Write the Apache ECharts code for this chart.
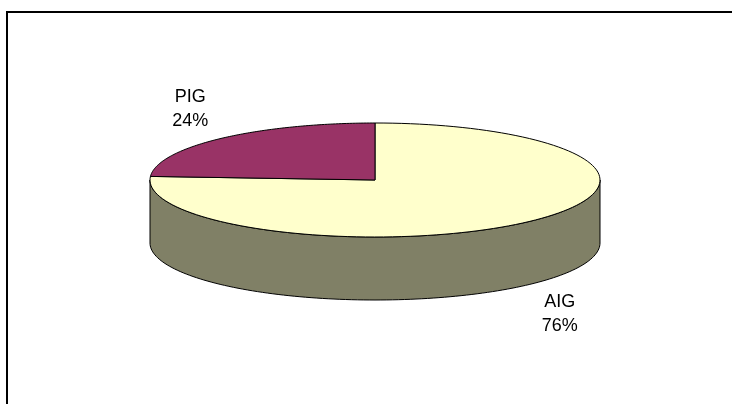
<!DOCTYPE html>
<html>
<head>
<meta charset="utf-8">
<script src="https://cdn.jsdelivr.net/npm/echarts@6/dist/echarts.min.js"></script>
<style>
html,body{margin:0;padding:0;background:#fff;}
#chart{width:732px;height:404px;}
</style>
</head>
<body>
<div id="chart"></div>
<script>
const categories = ['AIG', 'PIG'];
const values = [76, 24];
const topColors = ['#FFFFCC', '#993366'];
const sideColors = ['#808066', '#5c1f3d'];

const total = values.reduce((s, v) => s + v, 0);
const geo = { cx: 375, cy: 180, rx: 225, ry: 57, depth: 63, labelFx: 1.2, labelFy: 1.72 };
const N = 120;
const rad = d => d * Math.PI / 180;

function pt(t, dy) {
  return [geo.cx + geo.rx * Math.cos(rad(t)), geo.cy - geo.ry * Math.sin(rad(t)) + (dy || 0)];
}

function renderItem(params, api) {
  const idx = params.dataIndex;
  let before = 0;
  for (let i = 0; i < idx; i++) before += values[i];
  const v = api.value(0);
  const a = 90 - before / total * 360;
  const b = a - v / total * 360;
  const children = [];

  // side face (front, lower half only)
  const lo = Math.max(b, -180), hi = Math.min(a, 0);
  if (hi > lo) {
    const sp = [];
    for (let i = 0; i <= N; i++) sp.push(pt(lo + (hi - lo) * i / N));
    for (let i = N; i >= 0; i--) sp.push(pt(lo + (hi - lo) * i / N, geo.depth));
    children.push({
      type: 'polygon', z2: 1,
      shape: { points: sp },
      style: { fill: sideColors[idx], stroke: '#000', lineWidth: 1 }
    });
  }

  // top face
  const tp = [[geo.cx, geo.cy]];
  for (let i = 0; i <= N; i++) tp.push(pt(a + (b - a) * i / N));
  children.push({
    type: 'polygon', z2: 10,
    shape: { points: tp },
    style: { fill: topColors[idx], stroke: '#000', lineWidth: 1 }
  });

  // label
  const m = (a + b) / 2;
  const s = Math.sin(rad(m));
  const lx = geo.cx + geo.rx * Math.cos(rad(m)) * geo.labelFx;
  const ly = geo.cy - geo.ry * s * geo.labelFy + (s < 0 ? geo.depth : 0);
  children.push({
    type: 'text', z2: 20,
    x: lx, y: ly,
    style: {
      text: categories[idx] + '\n' + Math.round(v / total * 100) + '%',
      fill: '#000',
      font: '18px "Liberation Sans", Arial, sans-serif',
      lineHeight: 24,
      align: 'center',
      verticalAlign: 'middle'
    }
  });

  return { type: 'group', children: children };
}

const chart = echarts.init(document.getElementById('chart'));
chart.setOption({
  animation: false,
  backgroundColor: '#fff',
  graphic: [{
    type: 'rect', z: 0,
    shape: { x: 7, y: 12, width: 800, height: 500 },
    style: { fill: 'none', stroke: '#000', lineWidth: 2 }
  }],
  series: [{
    type: 'custom',
    coordinateSystem: 'none',
    renderItem: renderItem,
    data: values.map((v, i) => ({ name: categories[i], value: v }))
  }]
});
</script>
</body>
</html>
